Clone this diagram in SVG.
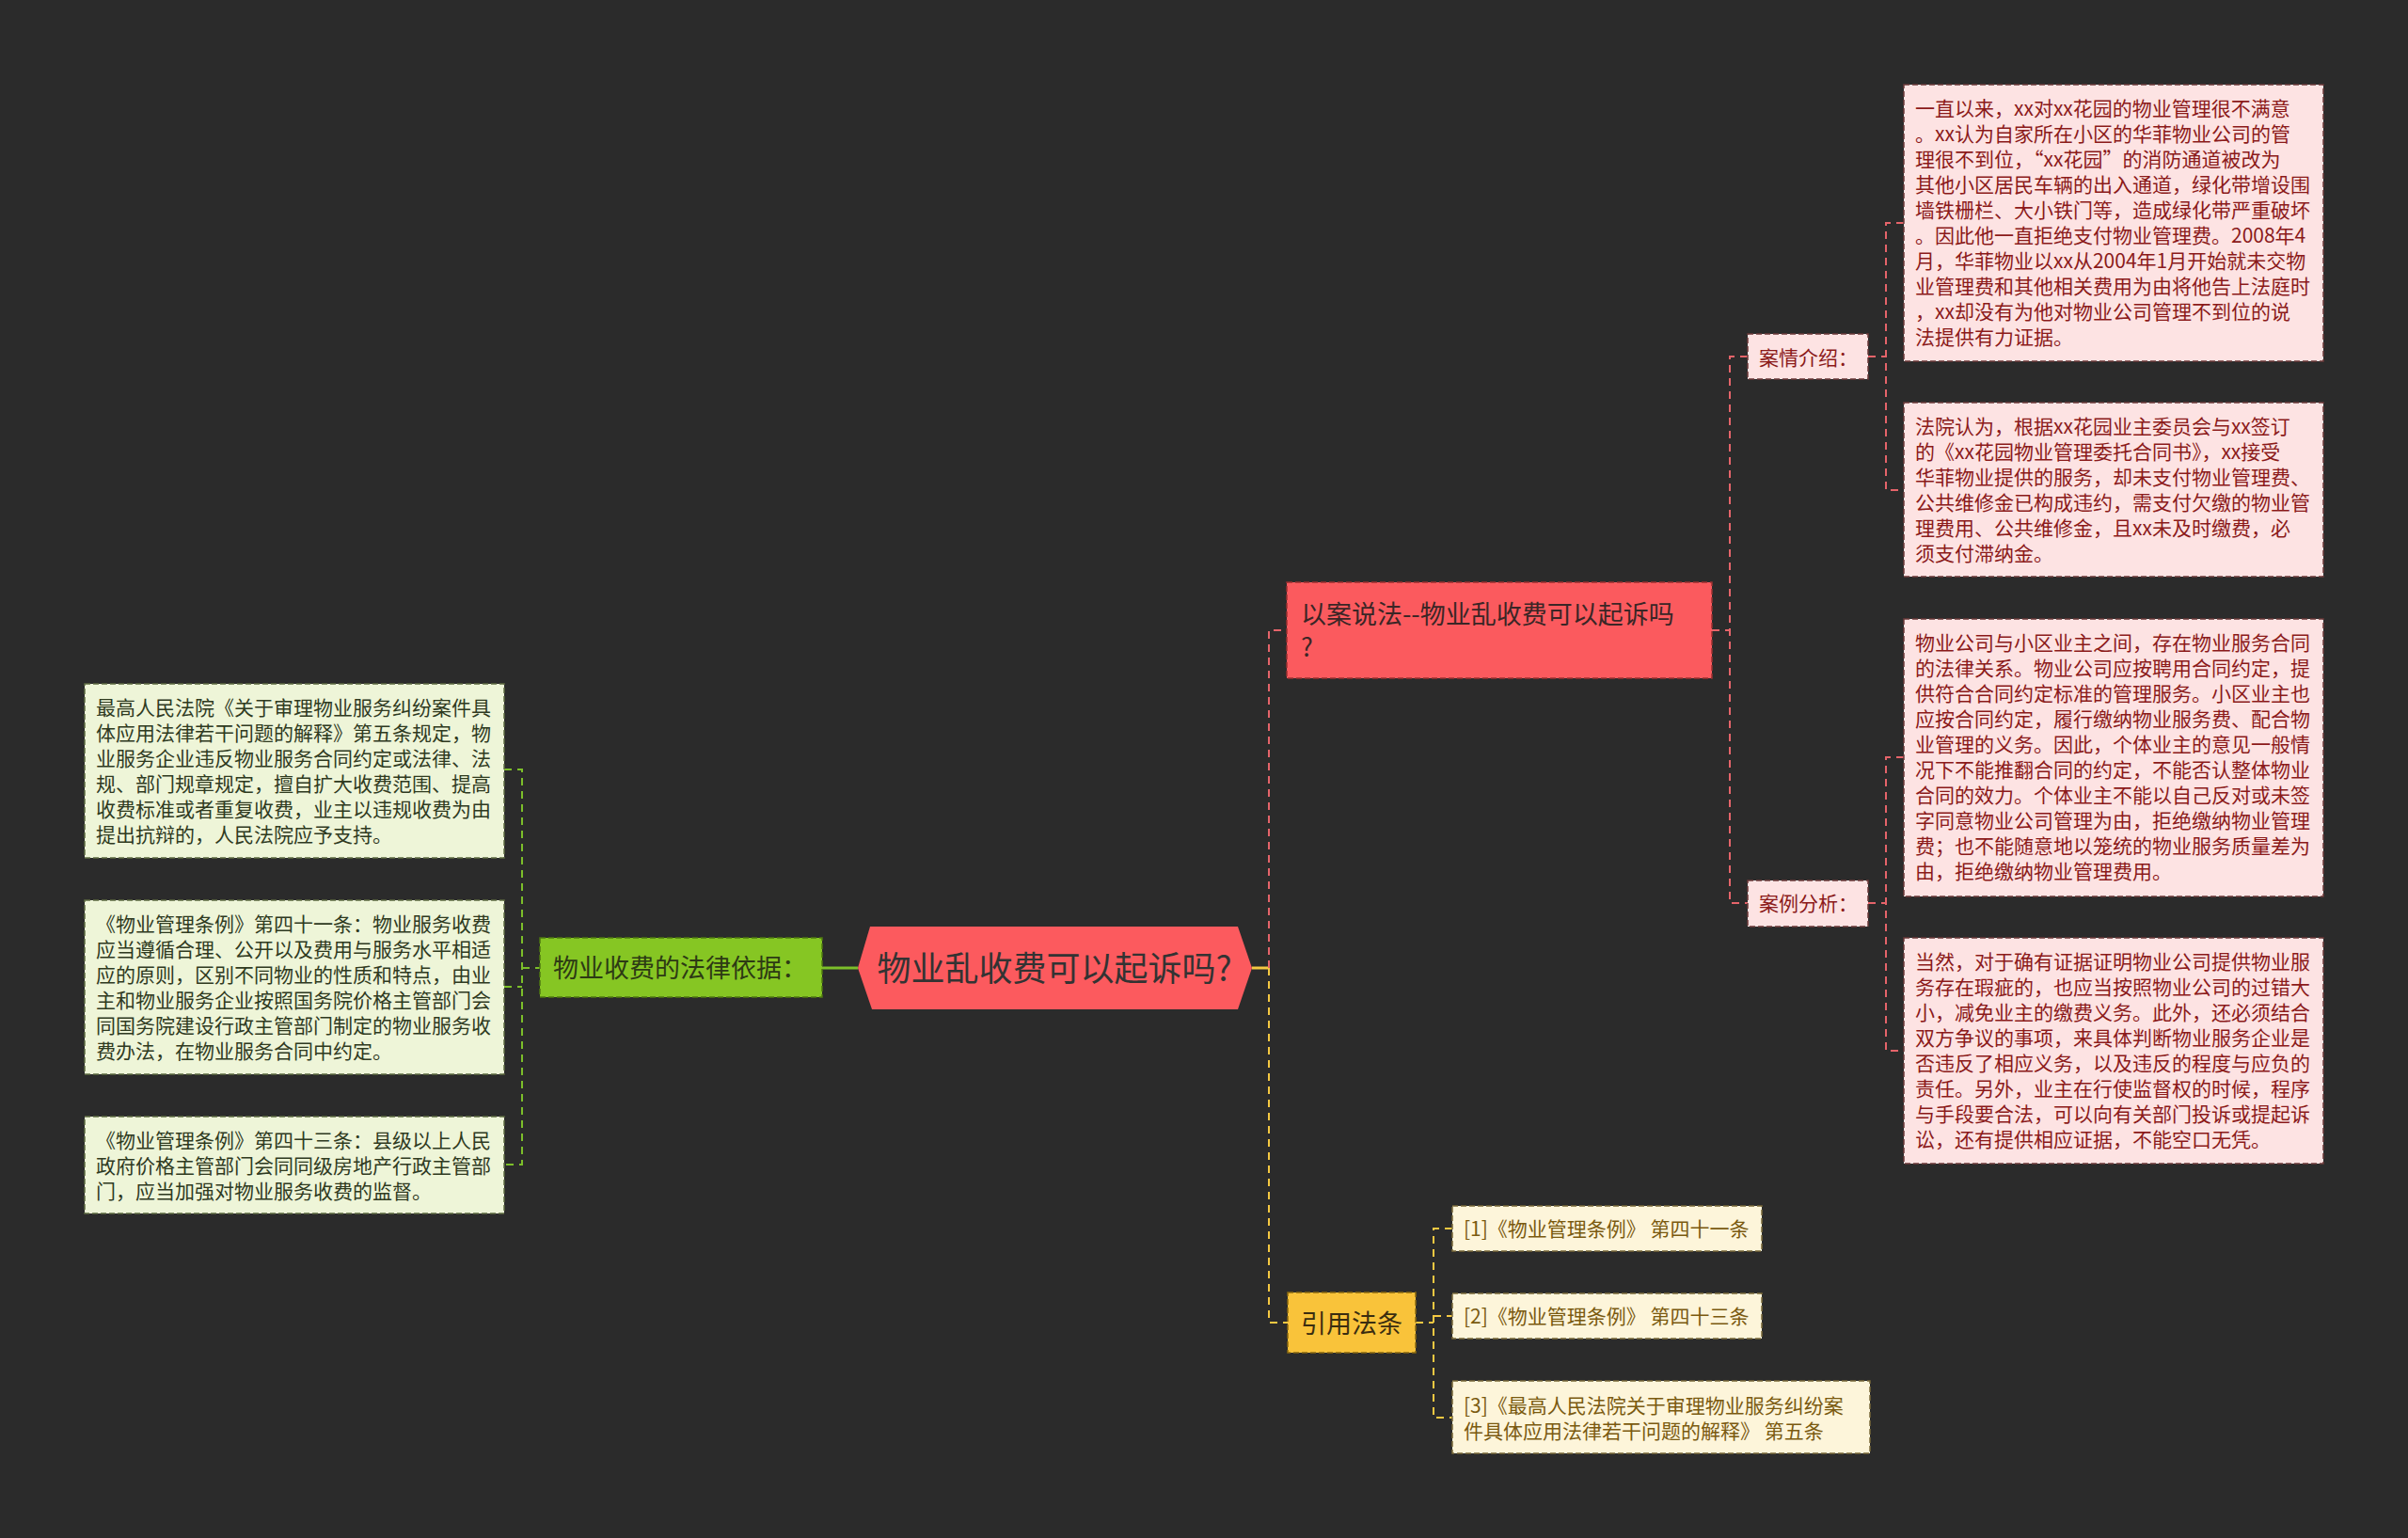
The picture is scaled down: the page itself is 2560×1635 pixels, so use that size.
<svg xmlns="http://www.w3.org/2000/svg" width="2560" height="1635" viewBox="0 0 2560 1635">
<style>
text{font-family:"Noto Sans CJK SC","Noto Sans",sans-serif;}
.bd{stroke-dasharray:6,3;stroke-width:1.5;}
.t21{font-size:21px;}
.red-c{fill:#8b1a1a;}
.grn-c{fill:#2f3a1f;}
.ref-c{fill:#7a5a10;}
.pink{fill:#fde3e3;stroke:#6b3a3a;}
.lgrn{fill:#eef5d8;stroke:#5e6b42;}
.cream{fill:#fdf5da;stroke:#7a6a3a;}
.cr{fill:none;stroke:#e5646a;stroke-width:2;stroke-dasharray:8,6;}
.cg{fill:none;stroke:#7cbf2a;stroke-width:2;stroke-dasharray:8,6;}
.cy{fill:none;stroke:#f5c842;stroke-width:2;stroke-dasharray:8,6;}
</style>
<rect x="0" y="0" width="2560" height="1635" fill="#2b2b2b"/>

<g id="connectors">
  <path d="M873,1029 H912" fill="none" stroke="#7cbf2a" stroke-width="3"/>
  <path class="cg" d="M536,818 H555 V1238 H536"/>
  <path class="cg" d="M536,1049 H555"/>
  <path class="cg" d="M555,1029 H574"/>
  <path d="M1331,1029 H1349" fill="none" stroke="#f5c842" stroke-width="3"/>
  <path class="cr" d="M1349,1029 V670 H1368"/>
  <path class="cy" d="M1349,1029 V1406 H1369"/>
  <path class="cr" d="M1820,670 H1839"/>
  <path class="cr" d="M1858,379 H1839 V960 H1858"/>
  <path class="cr" d="M1986,379 H2005"/>
  <path class="cr" d="M2024,237 H2005 V521 H2024"/>
  <path class="cr" d="M1986,960 H2005"/>
  <path class="cr" d="M2024,805 H2005 V1117 H2024"/>
  <path class="cy" d="M1505,1406 H1524"/>
  <path class="cy" d="M1544,1306 H1524 V1507 H1544"/>
  <path class="cy" d="M1524,1399 H1544"/>
</g>

<g id="center">
  <polygon points="925,985 1316,985 1331,1029 1316,1073 927,1073 912,1029" fill="#fc5a5e"/>
  <text x="1121" y="1043" font-size="36" text-anchor="middle" fill="#333333">物业乱收费可以起诉吗?</text>
</g>

<g id="case">
  <rect x="1368" y="619" width="452" height="102" fill="#fb5a5e" stroke="#9b3030" class="bd"/>
  <text x="1383" y="663" font-size="27" fill="#3a2626">以案说法--物业乱收费可以起诉吗</text>
  <text x="1383" y="698" font-size="27" fill="#3a2626">?</text>
</g>

<g id="intro">
  <rect x="1858" y="355" width="128" height="48" class="pink bd"/>
  <text x="1870" y="388" class="t21 red-c">案情介绍：</text>
</g>

<g id="analysis">
  <rect x="1858" y="936" width="128" height="49" class="pink bd"/>
  <text x="1870" y="968" class="t21 red-c">案例分析：</text>
</g>

<g id="intro-1">
  <rect x="2024" y="90" width="446" height="294" class="pink bd"/>
  <text class="t21 red-c">
    <tspan x="2036" y="123">一直以来，xx对xx花园的物业管理很不满意</tspan>
    <tspan x="2036" y="150">。xx认为自家所在小区的华菲物业公司的管</tspan>
    <tspan x="2036" y="177">理很不到位，“xx花园”的消防通道被改为</tspan>
    <tspan x="2036" y="204">其他小区居民车辆的出入通道，绿化带增设围</tspan>
    <tspan x="2036" y="231">墙铁栅栏、大小铁门等，造成绿化带严重破坏</tspan>
    <tspan x="2036" y="258">。因此他一直拒绝支付物业管理费。2008年4</tspan>
    <tspan x="2036" y="285">月，华菲物业以xx从2004年1月开始就未交物</tspan>
    <tspan x="2036" y="312">业管理费和其他相关费用为由将他告上法庭时</tspan>
    <tspan x="2036" y="339">，xx却没有为他对物业公司管理不到位的说</tspan>
    <tspan x="2036" y="366">法提供有力证据。</tspan>
  </text>
</g>

<g id="intro-2">
  <rect x="2024" y="428" width="446" height="185" class="pink bd"/>
  <text class="t21 red-c">
    <tspan x="2036" y="461">法院认为，根据xx花园业主委员会与xx签订</tspan>
    <tspan x="2036" y="488">的《xx花园物业管理委托合同书》，xx接受</tspan>
    <tspan x="2036" y="515">华菲物业提供的服务，却未支付物业管理费、</tspan>
    <tspan x="2036" y="542">公共维修金已构成违约，需支付欠缴的物业管</tspan>
    <tspan x="2036" y="569">理费用、公共维修金，且xx未及时缴费，必</tspan>
    <tspan x="2036" y="596">须支付滞纳金。</tspan>
  </text>
</g>

<g id="analysis-1">
  <rect x="2024" y="658" width="446" height="295" class="pink bd"/>
  <text class="t21 red-c">
    <tspan x="2036" y="691">物业公司与小区业主之间，存在物业服务合同</tspan>
    <tspan x="2036" y="718">的法律关系。物业公司应按聘用合同约定，提</tspan>
    <tspan x="2036" y="745">供符合合同约定标准的管理服务。小区业主也</tspan>
    <tspan x="2036" y="772">应按合同约定，履行缴纳物业服务费、配合物</tspan>
    <tspan x="2036" y="799">业管理的义务。因此，个体业主的意见一般情</tspan>
    <tspan x="2036" y="826">况下不能推翻合同的约定，不能否认整体物业</tspan>
    <tspan x="2036" y="853">合同的效力。个体业主不能以自己反对或未签</tspan>
    <tspan x="2036" y="880">字同意物业公司管理为由，拒绝缴纳物业管理</tspan>
    <tspan x="2036" y="907">费；也不能随意地以笼统的物业服务质量差为</tspan>
    <tspan x="2036" y="934">由，拒绝缴纳物业管理费用。</tspan>
  </text>
</g>

<g id="analysis-2">
  <rect x="2024" y="997" width="446" height="240" class="pink bd"/>
  <text class="t21 red-c">
    <tspan x="2036" y="1030">当然，对于确有证据证明物业公司提供物业服</tspan>
    <tspan x="2036" y="1057">务存在瑕疵的，也应当按照物业公司的过错大</tspan>
    <tspan x="2036" y="1084">小，减免业主的缴费义务。此外，还必须结合</tspan>
    <tspan x="2036" y="1111">双方争议的事项，来具体判断物业服务企业是</tspan>
    <tspan x="2036" y="1138">否违反了相应义务，以及违反的程度与应负的</tspan>
    <tspan x="2036" y="1165">责任。另外，业主在行使监督权的时候，程序</tspan>
    <tspan x="2036" y="1192">与手段要合法，可以向有关部门投诉或提起诉</tspan>
    <tspan x="2036" y="1219">讼，还有提供相应证据，不能空口无凭。</tspan>
  </text>
</g>

<g id="basis">
  <rect x="574" y="997" width="300" height="63" fill="#86c623" stroke="#4f7a10" class="bd"/>
  <text x="588" y="1039" font-size="27" fill="#2d3a14">物业收费的法律依据：</text>
</g>

<g id="basis-1">
  <rect x="90" y="727" width="446" height="185" class="lgrn bd"/>
  <text class="t21 grn-c">
    <tspan x="102" y="760">最高人民法院《关于审理物业服务纠纷案件具</tspan>
    <tspan x="102" y="787">体应用法律若干问题的解释》第五条规定，物</tspan>
    <tspan x="102" y="814">业服务企业违反物业服务合同约定或法律、法</tspan>
    <tspan x="102" y="841">规、部门规章规定，擅自扩大收费范围、提高</tspan>
    <tspan x="102" y="868">收费标准或者重复收费，业主以违规收费为由</tspan>
    <tspan x="102" y="895">提出抗辩的，人民法院应予支持。</tspan>
  </text>
</g>

<g id="basis-2">
  <rect x="90" y="957" width="446" height="185" class="lgrn bd"/>
  <text class="t21 grn-c">
    <tspan x="102" y="990">《物业管理条例》第四十一条：物业服务收费</tspan>
    <tspan x="102" y="1017">应当遵循合理、公开以及费用与服务水平相适</tspan>
    <tspan x="102" y="1044">应的原则，区别不同物业的性质和特点，由业</tspan>
    <tspan x="102" y="1071">主和物业服务企业按照国务院价格主管部门会</tspan>
    <tspan x="102" y="1098">同国务院建设行政主管部门制定的物业服务收</tspan>
    <tspan x="102" y="1125">费办法，在物业服务合同中约定。</tspan>
  </text>
</g>

<g id="basis-3">
  <rect x="90" y="1187" width="446" height="103" class="lgrn bd"/>
  <text class="t21 grn-c">
    <tspan x="102" y="1220">《物业管理条例》第四十三条：县级以上人民</tspan>
    <tspan x="102" y="1247">政府价格主管部门会同同级房地产行政主管部</tspan>
    <tspan x="102" y="1274">门，应当加强对物业服务收费的监督。</tspan>
  </text>
</g>

<g id="cite">
  <rect x="1369" y="1374" width="136" height="64" fill="#f9c33a" stroke="#8a6a10" class="bd"/>
  <text x="1383" y="1417" font-size="27" fill="#3a2d10">引用法条</text>
</g>

<g id="cite-1">
  <rect x="1544" y="1282" width="329" height="48" class="cream bd"/>
  <text x="1556" y="1314" class="t21 ref-c">[1]《物业管理条例》 第四十一条</text>
</g>

<g id="cite-2">
  <rect x="1544" y="1375" width="329" height="48" class="cream bd"/>
  <text x="1556" y="1407" class="t21 ref-c">[2]《物业管理条例》 第四十三条</text>
</g>

<g id="cite-3">
  <rect x="1544" y="1468" width="444" height="77" class="cream bd"/>
  <text class="t21 ref-c">
    <tspan x="1556" y="1502">[3]《最高人民法院关于审理物业服务纠纷案</tspan>
    <tspan x="1556" y="1529">件具体应用法律若干问题的解释》 第五条</tspan>
  </text>
</g>
</svg>
